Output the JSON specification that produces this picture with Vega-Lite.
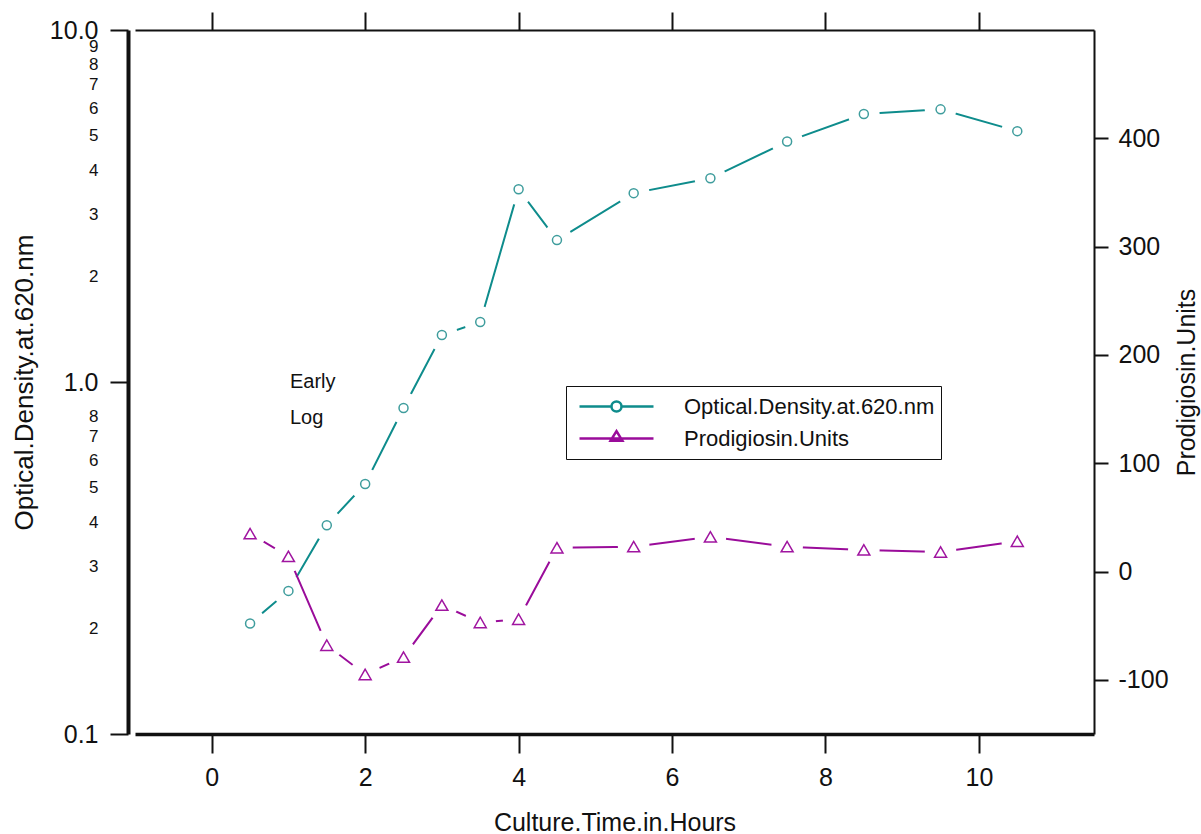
{
  "$schema": "https://vega.github.io/schema/vega-lite/v6.json",
  "width": 959,
  "height": 704,
  "autosize": {"type": "none"},
  "padding": {"left": 135, "top": 30, "right": 107, "bottom": 100},
  "background": "white",
  "config": {
    "view": {"stroke": null},
    "font": "Liberation Sans",
    "axis": {"grid": false, "domainColor": "#111", "tickColor": "#111", "labelColor": "#111", "titleColor": "#111", "titleFontWeight": "normal", "labelFont": "Liberation Sans", "titleFont": "Liberation Sans"}
  },
  "datasets": {
    "m": [
      {"hours": 0.5, "series": "Optical.Density.at.620.nm", "value": 0.206},
      {"hours": 1.0, "series": "Optical.Density.at.620.nm", "value": 0.255},
      {"hours": 1.5, "series": "Optical.Density.at.620.nm", "value": 0.392},
      {"hours": 2.0, "series": "Optical.Density.at.620.nm", "value": 0.513},
      {"hours": 2.5, "series": "Optical.Density.at.620.nm", "value": 0.844},
      {"hours": 3.0, "series": "Optical.Density.at.620.nm", "value": 1.36},
      {"hours": 3.5, "series": "Optical.Density.at.620.nm", "value": 1.48},
      {"hours": 4.0, "series": "Optical.Density.at.620.nm", "value": 3.53},
      {"hours": 4.5, "series": "Optical.Density.at.620.nm", "value": 2.53},
      {"hours": 5.5, "series": "Optical.Density.at.620.nm", "value": 3.44},
      {"hours": 6.5, "series": "Optical.Density.at.620.nm", "value": 3.79},
      {"hours": 7.5, "series": "Optical.Density.at.620.nm", "value": 4.82},
      {"hours": 8.5, "series": "Optical.Density.at.620.nm", "value": 5.77},
      {"hours": 9.5, "series": "Optical.Density.at.620.nm", "value": 5.95},
      {"hours": 10.5, "series": "Optical.Density.at.620.nm", "value": 5.16},
      {"hours": 0.5, "series": "Prodigiosin.Units", "value": 35},
      {"hours": 1.0, "series": "Prodigiosin.Units", "value": 14},
      {"hours": 1.5, "series": "Prodigiosin.Units", "value": -68},
      {"hours": 2.0, "series": "Prodigiosin.Units", "value": -95},
      {"hours": 2.5, "series": "Prodigiosin.Units", "value": -79},
      {"hours": 3.0, "series": "Prodigiosin.Units", "value": -31},
      {"hours": 3.5, "series": "Prodigiosin.Units", "value": -47},
      {"hours": 4.0, "series": "Prodigiosin.Units", "value": -44},
      {"hours": 4.5, "series": "Prodigiosin.Units", "value": 22},
      {"hours": 5.5, "series": "Prodigiosin.Units", "value": 23},
      {"hours": 6.5, "series": "Prodigiosin.Units", "value": 32},
      {"hours": 7.5, "series": "Prodigiosin.Units", "value": 23},
      {"hours": 8.5, "series": "Prodigiosin.Units", "value": 20},
      {"hours": 9.5, "series": "Prodigiosin.Units", "value": 18},
      {"hours": 10.5, "series": "Prodigiosin.Units", "value": 28}
    ],
    "notes": [
      {"hours": 1.02, "od": 1.0, "label": "Early"},
      {"hours": 1.02, "od": 0.79, "label": "Log"}
    ]
  },
  "data": {"name": "m"},
  "resolve": {"scale": {"y": "independent"}, "axis": {"x": "independent", "y": "independent"}},
  "layer": [
    {
      "transform": [{"filter": "datum.series === 'Optical.Density.at.620.nm'"}],
      "mark": {"type": "line", "color": "#0e8c8c", "strokeWidth": 2},
      "encoding": {
        "x": {"field": "hours", "type": "quantitative", "scale": {"domain": [-1, 11.5], "nice": false, "zero": false},
          "axis": {"orient": "bottom", "values": [0, 2, 4, 6, 8, 10], "format": "d", "title": "Culture.Time.in.Hours", "titleFontSize": 25, "titlePadding": 20, "labelFontSize": 25, "labelPadding": 12, "tickSize": 19, "tickWidth": 2, "domainWidth": 3.5, "labelFlush": false, "labelOverlap": false}},
        "y": {"field": "value", "type": "quantitative", "scale": {"type": "log", "domain": [0.1, 10], "nice": false},
          "axis": {"orient": "left", "offset": 7,
            "values": [0.1, 0.2, 0.3, 0.4, 0.5, 0.6, 0.7, 0.8, 1, 2, 3, 4, 5, 6, 7, 8, 9, 10],
            "labelExpr": "datum.value >= 9.99 ? '10.0' : (datum.value > 0.99 && datum.value < 1.01) ? '1.0' : datum.value < 0.101 ? '0.1' : datum.value < 1 ? format(datum.value * 10, '.0f') : format(datum.value, '.0f')",
            "labelFontSize": {"condition": {"test": "datum.value < 0.101 || (datum.value > 0.99 && datum.value < 1.01) || datum.value > 9.99", "value": 25}, "value": 17},
            "tickOpacity": {"condition": {"test": "datum.value < 0.101 || (datum.value > 0.99 && datum.value < 1.01) || datum.value > 9.99", "value": 1}, "value": 0},
            "tickSize": 18, "tickWidth": 2, "domainWidth": 4, "labelPadding": 12, "labelOverlap": false, "labelFlush": false,
            "title": "Optical.Density.at.620.nm", "titleFontSize": 26, "titlePadding": 12}}
      }
    },
    {
      "transform": [{"filter": "datum.series === 'Optical.Density.at.620.nm'"}],
      "mark": {"type": "point", "shape": "circle", "filled": true, "color": "white", "opacity": 1, "size": 1000, "strokeWidth": 0},
      "encoding": {
        "x": {"field": "hours", "type": "quantitative", "scale": {"domain": [-1, 11.5], "nice": false, "zero": false}, "axis": null},
        "y": {"field": "value", "type": "quantitative", "scale": {"type": "log", "domain": [0.1, 10], "nice": false}, "axis": null}
      }
    },
    {
      "transform": [{"filter": "datum.series === 'Optical.Density.at.620.nm'"}],
      "mark": {"type": "point", "shape": "circle", "filled": false, "color": "#3f9d9d", "opacity": 1, "size": 81, "strokeWidth": 1.5},
      "encoding": {
        "x": {"field": "hours", "type": "quantitative", "scale": {"domain": [-1, 11.5], "nice": false, "zero": false}, "axis": null},
        "y": {"field": "value", "type": "quantitative", "scale": {"type": "log", "domain": [0.1, 10], "nice": false}, "axis": null}
      }
    },
    {
      "data": {"name": "notes"},
      "mark": {"type": "text", "align": "left", "baseline": "middle", "fontSize": 20, "font": "Liberation Sans", "color": "#111"},
      "encoding": {
        "x": {"field": "hours", "type": "quantitative", "scale": {"domain": [-1, 11.5], "nice": false, "zero": false}, "axis": null},
        "y": {"field": "od", "type": "quantitative", "scale": {"type": "log", "domain": [0.1, 10], "nice": false}, "axis": null},
        "text": {"field": "label"}
      }
    },
    {
      "transform": [{"filter": "datum.series === 'Prodigiosin.Units'"}],
      "mark": {"type": "line", "color": "#9a0c9a", "strokeWidth": 2},
      "encoding": {
        "x": {"field": "hours", "type": "quantitative", "scale": {"domain": [-1, 11.5], "nice": false, "zero": false},
          "axis": {"orient": "top", "values": [0, 2, 4, 6, 8, 10], "labels": false, "title": null, "tickSize": 18, "tickWidth": 2, "domainWidth": 2}},
        "y": {"field": "value", "type": "quantitative", "scale": {"domain": [-150, 500], "nice": false, "zero": false},
          "axis": {"orient": "right", "values": [-100, 0, 100, 200, 300, 400], "labelExpr": "'' + datum.value", "labelFontSize": 25, "labelPadding": 10, "tickSize": 14, "tickWidth": 2, "domainWidth": 2, "labelOverlap": false, "labelFlush": false, "title": "Prodigiosin.Units", "titleFontSize": 25, "titleAngle": 270, "titleBaseline": "top", "titlePadding": 6}}
      }
    },
    {
      "transform": [{"filter": "datum.series === 'Prodigiosin.Units'"}],
      "mark": {"type": "point", "shape": "circle", "filled": true, "color": "white", "opacity": 1, "size": 1000, "strokeWidth": 0},
      "encoding": {
        "x": {"field": "hours", "type": "quantitative", "scale": {"domain": [-1, 11.5], "nice": false, "zero": false}, "axis": null},
        "y": {"field": "value", "type": "quantitative", "scale": {"domain": [-150, 500], "nice": false, "zero": false}, "axis": null}
      }
    },
    {
      "transform": [{"filter": "datum.series === 'Prodigiosin.Units'"}],
      "mark": {"type": "point", "shape": "triangle-up", "filled": false, "color": "#a015a0", "opacity": 1, "size": 144, "strokeWidth": 1.5},
      "encoding": {
        "x": {"field": "hours", "type": "quantitative", "scale": {"domain": [-1, 11.5], "nice": false, "zero": false}, "axis": null},
        "y": {"field": "value", "type": "quantitative", "scale": {"domain": [-150, 500], "nice": false, "zero": false}, "axis": null}
      }
    },
    {
      "mark": {"type": "point", "opacity": 0},
      "encoding": {
        "color": {"field": "series", "type": "nominal",
          "scale": {"domain": ["Optical.Density.at.620.nm", "Prodigiosin.Units"], "range": ["#0e8c8c", "#9a0c9a"]},
          "legend": {"title": null, "orient": "none", "legendX": 431, "legendY": 356, "strokeColor": "#111", "padding": 6, "symbolOffset": 6, "labelOffset": 29, "clipHeight": 29, "rowPadding": 3, "symbolSize": 5476, "symbolStrokeWidth": 2.5, "symbolOpacity": 1, "labelFontSize": 22, "labelFont": "Liberation Sans", "labelColor": "#111", "labelLimit": 400}},
        "shape": {"field": "series", "type": "nominal",
          "scale": {"domain": ["Optical.Density.at.620.nm", "Prodigiosin.Units"], "range": ["M-1,0H-0.135M0.135,0H1M0.135,0A0.135,0.135,0,1,1,-0.135,0A0.135,0.135,0,1,1,0.135,0", "M-1,0H1M-0.16,0.06L0,-0.2L0.16,0.06Z"]},
          "legend": {"title": null, "orient": "none", "legendX": 431, "legendY": 356, "strokeColor": "#111", "padding": 6, "symbolOffset": 6, "labelOffset": 29, "clipHeight": 29, "rowPadding": 3, "symbolSize": 5476, "symbolStrokeWidth": 2.5, "symbolOpacity": 1, "labelFontSize": 22, "labelFont": "Liberation Sans", "labelColor": "#111", "labelLimit": 400}}
      }
    }
  ]
}
